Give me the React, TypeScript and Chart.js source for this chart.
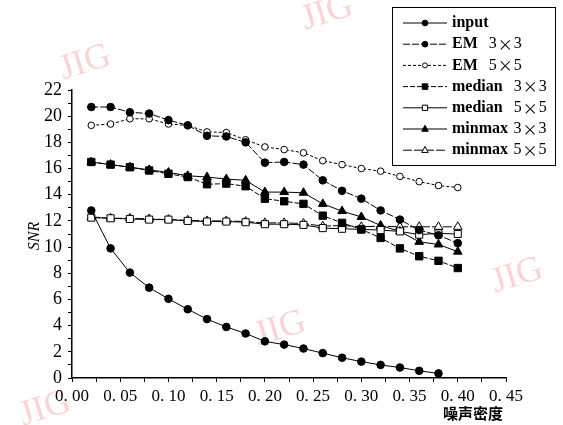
import React, { useEffect, useRef } from "react";
import { Chart, registerables } from "chart.js";

Chart.register(...registerables);

const xValues = [0.02, 0.04, 0.06, 0.08, 0.1, 0.12, 0.14, 0.16, 0.18, 0.2, 0.22, 0.24, 0.26, 0.28, 0.3, 0.32, 0.34, 0.36, 0.38, 0.4];
const inputSNR = [12.8, 9.9, 8.05, 6.9, 6.05, 5.25, 4.5, 3.9, 3.4, 2.8, 2.55, 2.25, 1.9, 1.55, 1.25, 1.0, 0.8, 0.55, 0.35];
const em3SNR = [20.7, 20.7, 20.3, 20.2, 19.7, 19.3, 18.5, 18.45, 18.0, 16.45, 16.5, 16.3, 15.1, 14.3, 13.7, 12.8, 12.1, 11.3, 10.9, 10.3];
const em5SNR = [19.3, 19.4, 19.8, 19.8, 19.4, 19.3, 18.8, 18.75, 18.2, 17.65, 17.45, 17.2, 16.6, 16.3, 16.0, 15.8, 15.4, 15.0, 14.7, 14.55];
const median3SNR = [16.5, 16.3, 16.1, 15.85, 15.6, 15.35, 14.8, 14.85, 14.65, 13.7, 13.5, 13.3, 12.4, 11.85, 11.35, 10.7, 9.9, 9.3, 8.95, 8.4];
const median5SNR = [12.25, 12.2, 12.15, 12.1, 12.1, 12.0, 11.95, 11.95, 11.9, 11.75, 11.75, 11.7, 11.45, 11.4, 11.35, 11.3, 11.2, 10.95, 11.05, 11.0];
const minmax3SNR = [16.5, 16.3, 16.1, 15.9, 15.7, 15.45, 15.35, 15.2, 15.1, 14.2, 14.2, 14.15, 13.3, 12.75, 12.3, 11.65, 11.2, 10.4, 10.2, 9.65];
const minmax5SNR = [12.3, 12.2, 12.2, 12.15, 12.1, 12.05, 12.0, 12.0, 11.95, 11.85, 11.85, 11.8, 11.6, 11.65, 11.55, 11.6, 11.55, 11.55, 11.55, 11.55];

const seriesNames = ["input", "EM  3×3", "EM  5×5", "median  3×3", "median  5×5", "minmax 3×3", "minmax 5×5"];
const yAxisTitle = "SNR";
const xAxisTitle = "噪声密度";
const watermark = "JIG";

const SERIF = "'Liberation Serif', 'DejaVu Serif', serif";
const CJK = "'Noto Sans CJK SC', sans-serif";

type Style = { shape: "circle" | "rect" | "triangle"; filled: boolean; r: number; dash: number[] };
const styles: Style[] = [
  { shape: "circle", filled: true, r: 3.8, dash: [] },
  { shape: "circle", filled: true, r: 3.8, dash: [7, 2] },
  { shape: "circle", filled: false, r: 3.3, dash: [3, 2] },
  { shape: "rect", filled: true, r: 5.2, dash: [5, 2] },
  { shape: "rect", filled: false, r: 5, dash: [] },
  { shape: "triangle", filled: true, r: 5, dash: [] },
  { shape: "triangle", filled: false, r: 5, dash: [9, 2] },
];

function drawMarker(ctx: CanvasRenderingContext2D, s: Style, x: number, y: number, scale = 1) {
  ctx.save();
  ctx.setLineDash([]);
  ctx.lineWidth = 1;
  ctx.strokeStyle = "#000";
  ctx.fillStyle = s.filled ? "#000" : "#fff";
  ctx.beginPath();
  const r = s.r * scale;
  if (s.shape === "circle") {
    ctx.arc(x, y, r, 0, Math.PI * 2);
  } else if (s.shape === "rect") {
    const h = r * Math.SQRT1_2;
    ctx.rect(x - h, y - h, 2 * h, 2 * h);
  } else {
    ctx.moveTo(x, y - r);
    ctx.lineTo(x + r * 0.866, y + r * 0.6);
    ctx.lineTo(x - r * 0.866, y + r * 0.6);
    ctx.closePath();
  }
  ctx.fill();
  ctx.stroke();
  ctx.restore();
}

const decorPlugin = {
  id: "decor",
  beforeDraw(chart: any) {
    const ctx: CanvasRenderingContext2D = chart.ctx;
    ctx.save();
    ctx.fillStyle = "rgba(245,130,130,0.35)";
    ctx.font = `36px ${SERIF}`;
    const marks = [
      [88, 72, -0.3],
      [330, 22, -0.3],
      [520, 285, -0.3],
      [283, 338, -0.3],
      [48, 418, -0.3],
    ];
    for (const [x, y, a] of marks) {
      ctx.save();
      ctx.translate(x, y);
      ctx.rotate(a);
      ctx.textAlign = "center";
      ctx.fillText(watermark, 0, 0);
      ctx.restore();
    }
    ctx.restore();
  },
  afterDraw(chart: any) {
    const ctx: CanvasRenderingContext2D = chart.ctx;
    ctx.save();
    ctx.fillStyle = "#000";
    ctx.save();
    ctx.translate(35, 236);
    ctx.rotate(-Math.PI / 2);
    ctx.font = `italic 16px ${SERIF}`;
    ctx.textAlign = "center";
    ctx.textBaseline = "middle";
    ctx.fillText(yAxisTitle, 0, 0);
    ctx.restore();
    ctx.font = `bold 15px ${CJK}`;
    ctx.textAlign = "center";
    ctx.textBaseline = "middle";
    ctx.fillText(xAxisTitle, 473, 413);

    const bx = 392, by = 7, bw = 163, bh = 158;
    ctx.fillStyle = "#fff";
    ctx.fillRect(bx, by, bw, bh);
    ctx.strokeStyle = "#000";
    ctx.lineWidth = 1;
    ctx.strokeRect(bx + 0.5, by + 0.5, bw, bh);
    seriesNames.forEach((name, i) => {
      const y = 23 + i * 21.2;
      const s = styles[i];
      ctx.save();
      ctx.strokeStyle = "#000";
      ctx.lineWidth = 1;
      ctx.setLineDash(s.dash);
      ctx.beginPath();
      ctx.moveTo(403, y);
      ctx.lineTo(447, y);
      ctx.stroke();
      ctx.restore();
      drawMarker(ctx, s, 425, y, 0.75);
      ctx.fillStyle = "#000";
      ctx.textAlign = "left";
      ctx.textBaseline = "middle";
      const m = name.match(/^(\S+)(\s+)(\d)×(\d)$/);
      let x = 452;
      if (m) {
        ctx.font = `bold 16px ${SERIF}`;
        ctx.fillText(m[1], x, y);
        x += ctx.measureText(m[1]).width;
        x += m[2].length * 5.5;
        ctx.font = `16px ${SERIF}`;
        ctx.fillText(m[3], x, y);
        x += ctx.measureText(m[3]).width + 1;
        ctx.font = `15px ${CJK}`;
        ctx.fillText("×", x, y);
        x += ctx.measureText("×").width + 1;
        ctx.font = `16px ${SERIF}`;
        ctx.fillText(m[4], x, y);
      } else {
        ctx.font = `bold 16px ${SERIF}`;
        ctx.fillText(name, x, y);
      }
    });
    ctx.restore();
  },
};

export default function App() {
  const ref = useRef<HTMLCanvasElement | null>(null);
  useEffect(() => {
    document.body.style.margin = "0";
    const cvs = ref.current!;
    const all = [inputSNR, em3SNR, em5SNR, median3SNR, median5SNR, minmax3SNR, minmax5SNR];
    const datasets = all.map((vals, i) => {
      const s = styles[i];
      return {
        label: seriesNames[i],
        data: vals.map((v, j) => ({ x: xValues[j], y: v })),
        showLine: true,
        borderColor: "#000",
        borderWidth: 1,
        borderDash: s.dash,
        backgroundColor: s.filled ? "#000" : "#fff",
        pointBorderColor: "#000",
        pointBackgroundColor: s.filled ? "#000" : "#fff",
        pointBorderWidth: 1,
        pointStyle: s.shape,
        pointRadius: s.r,
        tension: 0,
      };
    });
    const chart = new Chart(cvs, {
      type: "scatter",
      data: { datasets: datasets as any },
      options: {
        animation: false,
        responsive: false,
        layout: { padding: { top: 90, right: 57, left: 0, bottom: 0 } },
        plugins: { legend: { display: false }, tooltip: { enabled: false } },
        scales: {
          x: {
            type: "linear",
            min: 0,
            max: 0.45,
            afterFit: (s: any) => { s.height = 47; },
            afterBuildTicks: (s: any) => {
              const t = [];
              for (let k = 0; k <= 18; k++) t.push({ value: k * 0.025 });
              s.ticks = t;
            },
            ticks: {
              autoSkip: false,
              maxRotation: 0,
              color: "#000",
              padding: 4,
              font: { family: SERIF, size: 17 },
              callback: (v: any) => {
                const k = Math.round(Number(v) * 1000);
                return k % 50 === 0 ? (k / 1000).toFixed(2).replace(".", ". ") : "";
              },
            },
            grid: { drawOnChartArea: false, drawTicks: true, tickLength: 4, color: "#000" },
            border: { display: true, color: "#000", width: 1.5 },
          },
          y: {
            type: "linear",
            min: 0,
            max: 22,
            afterFit: (s: any) => { s.width = 72; },
            afterBuildTicks: (s: any) => {
              const t = [];
              for (let k = 0; k <= 22; k++) t.push({ value: k });
              s.ticks = t;
            },
            ticks: {
              autoSkip: false,
              color: "#000",
              padding: 6,
              font: { family: SERIF, size: 18 },
              callback: (v: any) => (Number(v) % 2 === 0 ? String(v) : ""),
            },
            grid: { drawOnChartArea: false, drawTicks: true, tickLength: 4, color: "#000" },
            border: { display: true, color: "#000", width: 1.5 },
          },
        },
      },
      plugins: [decorPlugin],
    });
    return () => chart.destroy();
  }, []);
  return <canvas ref={ref} width={563} height={425} style={{ display: "block" }} />;
}
